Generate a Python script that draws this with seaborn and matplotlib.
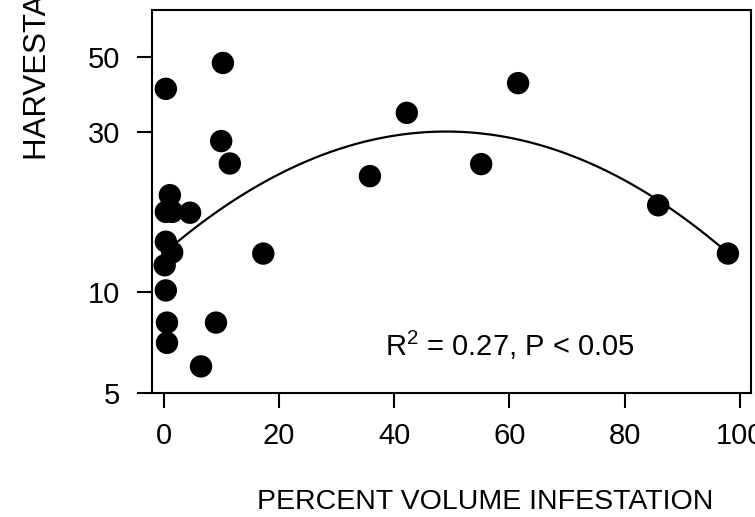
import numpy as np
import pandas as pd
import matplotlib
matplotlib.use("Agg")
import matplotlib.pyplot as plt
import seaborn as sns

# Data
infestation = [10.3, 0.4, 10.0, 11.5, 42.2, 35.8, 61.5, 55.1, 85.8, 97.9,
               1.1, 0.4, 1.5, 4.6, 0.4, 1.5, 0.2, 0.4, 0.6, 0.6, 9.1, 6.5, 17.3]
harvest = [48.0, 40.2, 28.1, 24.1, 34.1, 22.1, 41.8, 24.0, 18.1, 13.0,
           19.4, 17.3, 17.3, 17.2, 14.1, 13.1, 12.0, 10.1, 8.1, 7.05, 8.1, 6.0, 13.0]

# Fitted curve (quadratic in log10 of y)
curve_peak_x = 49.0
curve_peak_y = 30.0
curve_c = -1.512e-4
curve_range = [2.3, 98.0]

x_ticks = [0, 20, 40, 60, 80, 100]
y_ticks = [5, 10, 30, 50]
annotation = r"R$^{2}$ = 0.27, P < 0.05"
x_label = "PERCENT VOLUME INFESTATION"
y_label = "HARVESTABLE VOLUME"

sns.set_theme(style="white")
plt.rcParams["font.family"] = ["Liberation Sans", "DejaVu Sans"]
plt.rcParams["mathtext.fontset"] = "custom"
plt.rcParams["mathtext.rm"] = "Liberation Sans"
plt.rcParams["mathtext.it"] = "Liberation Sans"
plt.rcParams["mathtext.default"] = "regular"

fig = plt.figure(figsize=(7.55, 5.17), dpi=100)
ax = fig.add_axes([152 / 755, 1 - 393 / 517, (751 - 152) / 755, (393 - 10) / 517])

df = pd.DataFrame({"x": infestation, "y": harvest})
sns.scatterplot(data=df, x="x", y="y", ax=ax, color="black", s=260,
                edgecolor="none", linewidth=0, zorder=3)

cx = np.linspace(curve_range[0], curve_range[1], 200)
cy = 10 ** (np.log10(curve_peak_y) + curve_c * (cx - curve_peak_x) ** 2)
sns.lineplot(x=cx, y=cy, ax=ax, color="black", linewidth=1.6, zorder=2)

ax.set_yscale("log")
ax.set_xlim(-2.0, 101.9)
ax.set_ylim(5, 69)
ax.set_xticks(x_ticks)
ax.set_xticklabels([str(t) for t in x_ticks])
ax.set_yticks(y_ticks)
ax.set_yticklabels([str(t) for t in y_ticks])
ax.yaxis.set_minor_locator(matplotlib.ticker.NullLocator())
ax.tick_params(axis="both", which="major", direction="out", length=11, width=1.5,
               color="black", labelsize=21, labelcolor="black", pad=10,
               bottom=True, left=True)
ax.tick_params(axis="y", pad=12)
for s in ax.spines.values():
    s.set_color("black")
    s.set_linewidth(1.5)
ax.set_xlabel("")
ax.set_ylabel("")

fig.text(385 / 755, 1 - 345 / 517, annotation, fontsize=21, ha="left",
         va="center", color="black")

fig.text(485 / 755, 1 - 502 / 517, x_label, fontsize=20.5, ha="center",
         va="center", color="black")
fig.text(38 / 755, 1 - 160 / 517, y_label, fontsize=22.5, rotation=90,
         ha="center", va="bottom", color="black")

fig.savefig("out.png", dpi=100)
